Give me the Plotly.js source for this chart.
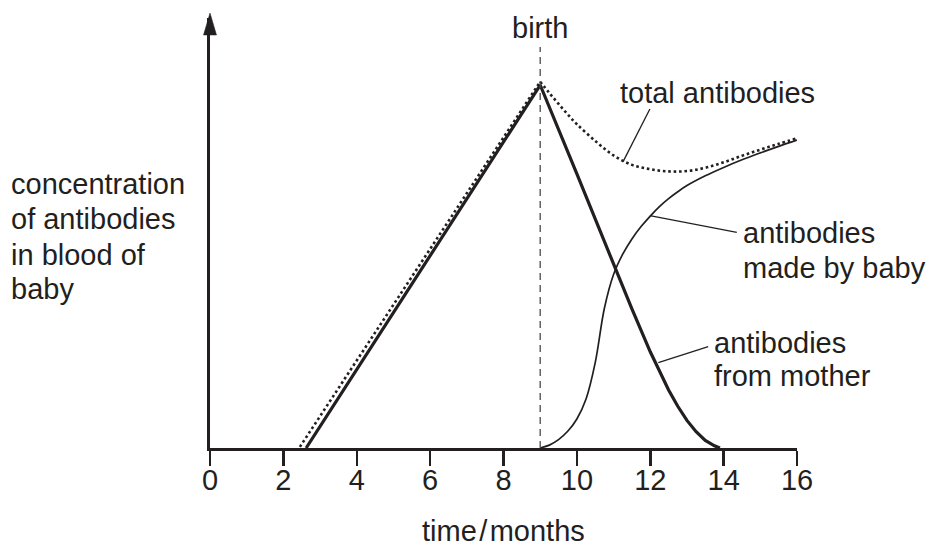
<!DOCTYPE html>
<html><head><meta charset="utf-8">
<script src="https://cdn.plot.ly/plotly-3.0.1.min.js"></script>
<style>html,body{margin:0;padding:0;background:#fff}</style>
</head><body>
<div id="chart" style="width:930px;height:547px"></div>
<script>
// ---- data ----
const xTickVals = [0, 2, 4, 6, 8, 10, 12, 14, 16];
const xTickText = ['0', '2', '4', '6', '8', '10', '12', '14', '16'];
const birthMonth = 9;

// antibodies from mother (thick solid)
const motherMonths = [2.62, 9, 10, 11, 11.5, 12, 12.25, 12.5, 12.75, 13, 13.25, 13.5, 13.75, 13.9];
const motherConc   = [0, 100, 75.5, 50.5, 38.3, 26.5, 21.0, 16.0, 11.5, 7.6, 4.5, 2.1, 0.6, 0];

// antibodies made by baby (thin solid)
const babyMonths = [9, 9.25, 9.5, 9.75, 10, 10.25, 10.5, 10.75, 11, 11.25, 11.5, 11.75, 12, 12.25, 12.5, 12.75, 13, 13.5, 14, 14.5, 15, 15.5, 16];
const babyConc   = [0, 0.8, 2.3, 4.6, 8.0, 13.5, 23.5, 38.5, 47.8, 53.4, 57.6, 61.0, 63.9, 66.5, 68.7, 70.6, 72.3, 75.0, 77.3, 79.4, 81.3, 83.1, 84.8];

// total antibodies (dotted)
const totalMonths = [2.45, 9, 9.25, 9.5, 9.75, 10, 10.5, 11, 11.5, 12, 12.5, 13, 13.5, 14, 14.5, 15, 15.5, 16];
const totalConc   = [0.3, 100.9, 97.8, 94.8, 91.9, 89.2, 84.6, 80.6, 78.0, 76.8, 76.2, 76.3, 77.2, 78.7, 80.5, 82.2, 83.8, 85.3];

// ---- styling ----
const ink = '#231f20';
const fontFam = '"Liberation Sans", Arial, Helvetica, sans-serif';
const fs = 29;

const traces = [
  { x: totalMonths.slice(0, 2), y: totalConc.slice(0, 2), mode: 'lines', type: 'scatter',
    line: { color: ink, width: 2.6, dash: '2.6px,2.8px' }, name: 'total antibodies' },
  { x: totalMonths.slice(1), y: totalConc.slice(1), mode: 'lines', type: 'scatter',
    line: { color: ink, width: 2.6, dash: '2.6px,2.8px', shape: 'spline', smoothing: 1 }, name: 'total antibodies' },
  { x: babyMonths, y: babyConc, mode: 'lines', type: 'scatter',
    line: { color: ink, width: 1.7, shape: 'spline', smoothing: 1 }, name: 'antibodies made by baby' },
  { x: motherMonths, y: motherConc, mode: 'lines', type: 'scatter',
    line: { color: ink, width: 3.2 }, name: 'antibodies from mother' }
];

function txt(text, x, y, xanchor, xref, yref) {
  return { text: text, x: x, y: y, xref: xref || 'x', yref: yref || 'y', xanchor: xanchor, yanchor: 'middle',
           showarrow: false, font: { family: fontFam, size: fs, color: ink } };
}

const annotations = [
  txt('birth', birthMonth, 115.7, 'center'),
  txt('total antibodies', 11.12, 97.8, 'left'),
  txt('antibodies', 14.47, 59.2, 'left'),
  txt('made by baby', 14.47, 49.6, 'left'),
  txt('antibodies', 13.68, 28.8, 'left'),
  txt('from mother', 13.68, 19.8, 'left'),
  txt('concentration', -0.3424, 72.6, 'left', 'paper'),
  txt('of antibodies', -0.3424, 63.0, 'left', 'paper'),
  txt('in blood of', -0.3424, 53.3, 'left', 'paper'),
  txt('baby', -0.3424, 43.7, 'left', 'paper'),
  // x axis title
  Object.assign(txt('time\u200a/\u200amonths', 0.5, -0.194, 'center', 'paper', 'paper'), { borderpad: 0 })
];

const shapes = [
  // birth marker
  { type: 'line', xref: 'x', yref: 'y', x0: birthMonth, x1: birthMonth, y0: 0, y1: 110.5,
    line: { color: '#4a4a4a', width: 1.3, dash: '7px,5px' } },
  // leader lines
  { type: 'line', xref: 'x', yref: 'y', x0: 11.99, y0: 93.4, x1: 11.26, y1: 78.9, line: { color: ink, width: 1.3 } },
  { type: 'line', xref: 'x', yref: 'y', x0: 11.99, y0: 64.0, x1: 14.36, y1: 59.4, line: { color: ink, width: 1.3 } },
  { type: 'line', xref: 'x', yref: 'y', x0: 12.22, y0: 23.5, x1: 13.58, y1: 27.9, line: { color: ink, width: 1.3 } },
  // arrow head on the y axis
  { type: 'path', xref: 'paper', yref: 'paper', xsizemode: 'pixel', ysizemode: 'pixel',
    xanchor: 0, yanchor: 1, path: 'M0,5 L-6.5,-17 L6.5,-17 Z',
    fillcolor: ink, line: { color: ink, width: 0.5 } }
];

const layout = {
  width: 930, height: 547,
  margin: { l: 210, r: 133, t: 18, b: 99, pad: 0 },
  paper_bgcolor: '#fff', plot_bgcolor: '#fff',
  showlegend: false, hovermode: false,
  font: { family: fontFam, size: fs, color: ink },
  xaxis: {
    range: [0, 16], tickvals: xTickVals, ticktext: xTickText,
    showgrid: false, zeroline: false, showline: true, linecolor: ink, linewidth: 2.7,
    ticks: 'outside', ticklen: 15, tickwidth: 2.5, tickcolor: ink, ticklabelstandoff: -11,
    tickfont: { family: fontFam, size: fs, color: ink },
    fixedrange: true
  },
  yaxis: {
    range: [0, 118.46], showgrid: false, zeroline: false, showline: true, linecolor: ink, linewidth: 2.7,
    showticklabels: false, ticks: '', fixedrange: true
  },
  annotations: annotations,
  shapes: shapes
};

Plotly.newPlot('chart', traces, layout, { displayModeBar: false, staticPlot: true });
</script>
</body></html>
